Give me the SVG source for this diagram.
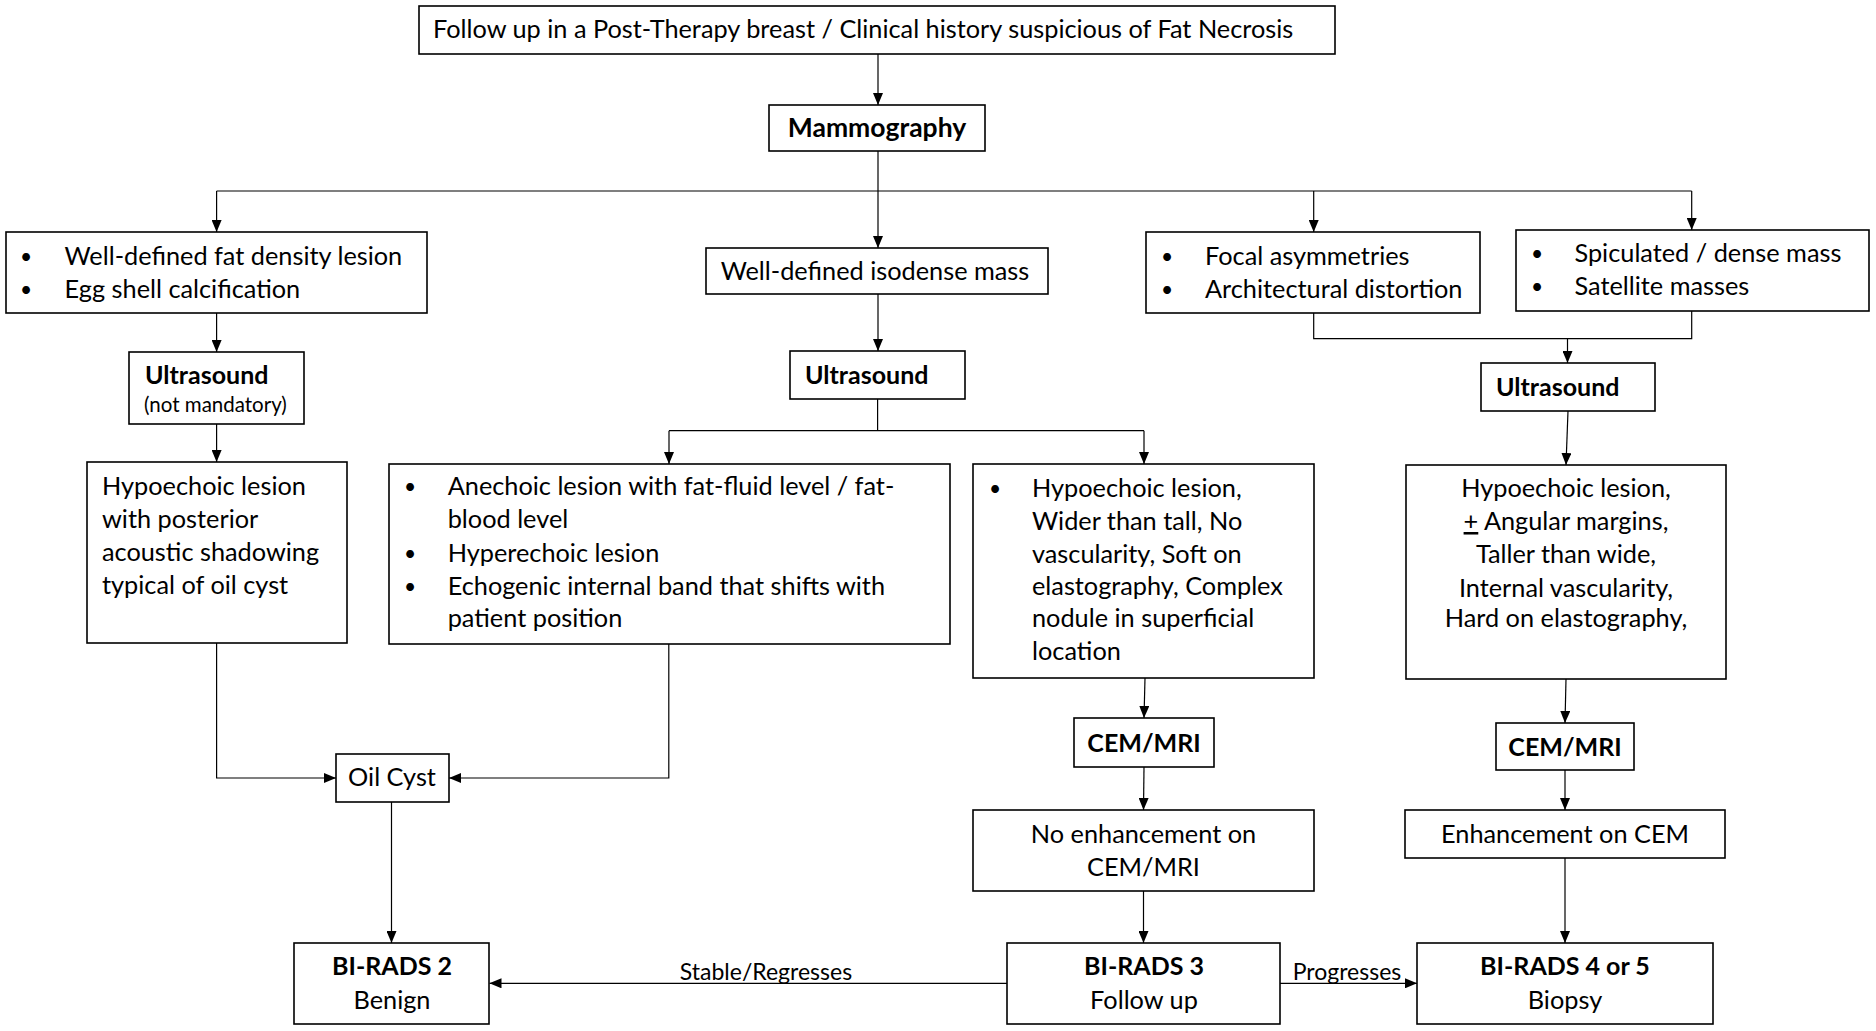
<svg xmlns="http://www.w3.org/2000/svg" width="1876" height="1031" viewBox="0 0 1876 1031">
<style>
.box{fill:#fff;stroke:#000;stroke-width:1.6}
.t{font-family:Lato,"Liberation Sans",sans-serif;font-size:25.3px;fill:#000}
.b{font-weight:bold;font-size:25px}
.c{text-anchor:middle}
.s{font-size:20.5px}
.e{font-size:23px}
.bu{font-size:21px}
.ln{fill:none;stroke:#000;stroke-width:1.2}
</style>
<defs>
<marker id="ah" markerWidth="12" markerHeight="10" refX="12" refY="5" orient="auto" markerUnits="userSpaceOnUse"><path d="M0,0 L12,5 L0,10 z" fill="#000"/></marker>
</defs>
<rect width="1876" height="1031" fill="#fff"/>
<g id="connectors">
<path class="ln" d="M878,54 V105" marker-end="url(#ah)"/>
<path class="ln" d="M878,151 V191"/>
<path class="ln" d="M216.6,191 H1691.7"/>
<path class="ln" d="M216.6,191 V232" marker-end="url(#ah)"/>
<path class="ln" d="M878,191 V248" marker-end="url(#ah)"/>
<path class="ln" d="M1313.7,191 V232" marker-end="url(#ah)"/>
<path class="ln" d="M1691.7,191 V230" marker-end="url(#ah)"/>
<path class="ln" d="M216.6,313 V352" marker-end="url(#ah)"/>
<path class="ln" d="M878,294 V351" marker-end="url(#ah)"/>
<path class="ln" d="M1313.7,313 V338.6 H1691.7 V311"/>
<path class="ln" d="M1567.5,338.6 V363" marker-end="url(#ah)"/>
<path class="ln" d="M216.6,424 V462" marker-end="url(#ah)"/>
<path class="ln" d="M877.6,399 V430.7"/>
<path class="ln" d="M669,430.7 H1144"/>
<path class="ln" d="M669,430.7 V464" marker-end="url(#ah)"/>
<path class="ln" d="M1144,430.7 V464" marker-end="url(#ah)"/>
<path class="ln" d="M1568,411 L1566,465" marker-end="url(#ah)"/>
<path class="ln" d="M216.6,643 V778 H336" marker-end="url(#ah)"/>
<path class="ln" d="M668.8,644 V778 H449" marker-end="url(#ah)"/>
<path class="ln" d="M1145,678 L1144,718" marker-end="url(#ah)"/>
<path class="ln" d="M1566,679 L1565,723" marker-end="url(#ah)"/>
<path class="ln" d="M1144,767 L1143.5,810" marker-end="url(#ah)"/>
<path class="ln" d="M1565,770 V810" marker-end="url(#ah)"/>
<path class="ln" d="M391.5,802 V943" marker-end="url(#ah)"/>
<path class="ln" d="M1143.5,891 V943" marker-end="url(#ah)"/>
<path class="ln" d="M1565,858 V943" marker-end="url(#ah)"/>
<path class="ln" d="M1007,983.3 H489.5" marker-end="url(#ah)"/>
<path class="ln" d="M1280,983.3 H1417" marker-end="url(#ah)"/>
<text class="t e c" x="766" y="980">Stable/Regresses</text>
<text class="t e c" x="1347" y="980">Progresses</text>
</g>
<g id="n-top">
<rect class="box" x="419" y="6" width="916" height="48"/>
<text class="t" x="433" y="38">Follow up in a Post-Therapy breast / Clinical history suspicious of Fat Necrosis</text>
</g>
<g id="n-mammo">
<rect class="box" x="769" y="105" width="216" height="46"/>
<text class="t b c" x="877" y="137" style="font-size:26.5px">Mammography</text>
</g>
<g id="n-fat">
<rect class="box" x="6" y="232" width="421" height="81"/>
<text class="t bu" x="20" y="264">•</text><text class="t" x="64.6" y="265">Well-defined fat density lesion</text>
<text class="t bu" x="20" y="297">•</text><text class="t" x="64.6" y="298">Egg shell calcification</text>
</g>
<g id="n-iso">
<rect class="box" x="706" y="248" width="342" height="46"/>
<text class="t c" x="875" y="280">Well-defined isodense mass</text>
</g>
<g id="n-focal">
<rect class="box" x="1146" y="232" width="334" height="81"/>
<text class="t bu" x="1161" y="264">•</text><text class="t" x="1205" y="265">Focal asymmetries</text>
<text class="t bu" x="1161" y="297">•</text><text class="t" x="1205" y="298">Architectural distortion</text>
</g>
<g id="n-spic">
<rect class="box" x="1516" y="230" width="353" height="81"/>
<text class="t bu" x="1531" y="261">•</text><text class="t" x="1574.5" y="262">Spiculated / dense mass</text>
<text class="t bu" x="1531" y="294">•</text><text class="t" x="1574.5" y="295">Satellite masses</text>
</g>
<g id="n-us1">
<rect class="box" x="129" y="352" width="175" height="72"/>
<text class="t b" x="145" y="384">Ultrasound</text>
<text class="t s" x="144" y="412">(not mandatory)</text>
</g>
<g id="n-us2">
<rect class="box" x="790" y="351" width="175" height="48"/>
<text class="t b" x="805" y="384">Ultrasound</text>
</g>
<g id="n-us3">
<rect class="box" x="1481" y="363" width="174" height="48"/>
<text class="t b" x="1496" y="396">Ultrasound</text>
</g>
<g id="n-oilcyst-us">
<rect class="box" x="87" y="462" width="260" height="181"/>
<text class="t" x="102" y="495">Hypoechoic lesion</text>
<text class="t" x="102" y="528">with posterior</text>
<text class="t" x="102" y="561">acoustic shadowing</text>
<text class="t" x="102" y="594">typical of oil cyst</text>
</g>
<g id="n-anechoic">
<rect class="box" x="389" y="464" width="561" height="180"/>
<text class="t bu" x="404" y="494">•</text><text class="t" x="447.7" y="495">Anechoic lesion with fat-fluid level / fat-</text>
<text class="t" x="447.7" y="528">blood level</text>
<text class="t bu" x="404" y="560.5">•</text><text class="t" x="447.7" y="561.5">Hyperechoic lesion</text>
<text class="t bu" x="404" y="594">•</text><text class="t" x="447.7" y="595">Echogenic internal band that shifts with</text>
<text class="t" x="447.7" y="627">patient position</text>
</g>
<g id="n-benign-us">
<rect class="box" x="973" y="464" width="341" height="214"/>
<text class="t bu" x="989" y="496">•</text><text class="t" x="1032" y="497">Hypoechoic lesion,</text>
<text class="t" x="1032" y="530">Wider than tall, No</text>
<text class="t" x="1032" y="563">vascularity, Soft on</text>
<text class="t" x="1032" y="595">elastography, Complex</text>
<text class="t" x="1032" y="627">nodule in superficial</text>
<text class="t" x="1032" y="660">location</text>
</g>
<g id="n-suspicious-us">
<rect class="box" x="1406" y="465" width="320" height="214"/>
<text class="t c" x="1566" y="497">Hypoechoic lesion,</text>
<text class="t c" x="1566" y="530"><tspan text-decoration="underline">+</tspan> Angular margins,</text>
<text class="t c" x="1566" y="563">Taller than wide,</text>
<text class="t c" x="1566" y="597">Internal vascularity,</text>
<text class="t c" x="1566" y="627">Hard on elastography,</text>
</g>
<g id="n-oilcyst">
<rect class="box" x="336" y="754" width="113" height="48"/>
<text class="t c" x="392" y="786">Oil Cyst</text>
</g>
<g id="n-cem1">
<rect class="box" x="1074" y="718" width="140" height="49"/>
<text class="t b c" x="1144" y="752">CEM/MRI</text>
</g>
<g id="n-cem2">
<rect class="box" x="1496" y="723" width="138" height="47"/>
<text class="t b c" x="1565" y="756">CEM/MRI</text>
</g>
<g id="n-noenh">
<rect class="box" x="973" y="810" width="341" height="81"/>
<text class="t c" x="1143.5" y="843">No enhancement on</text>
<text class="t c" x="1143.5" y="876">CEM/MRI</text>
</g>
<g id="n-enh">
<rect class="box" x="1405" y="810" width="320" height="48"/>
<text class="t c" x="1565" y="843">Enhancement on CEM</text>
</g>
<g id="n-birads2">
<rect class="box" x="294" y="943" width="195" height="81"/>
<text class="t b c" x="392" y="975">BI-RADS 2</text>
<text class="t c" x="392" y="1009">Benign</text>
</g>
<g id="n-birads3">
<rect class="box" x="1007" y="943" width="273" height="81"/>
<text class="t b c" x="1144" y="975">BI-RADS 3</text>
<text class="t c" x="1144" y="1009">Follow up</text>
</g>
<g id="n-birads45">
<rect class="box" x="1417" y="943" width="296" height="81"/>
<text class="t b c" x="1565" y="975">BI-RADS 4 or 5</text>
<text class="t c" x="1565" y="1009">Biopsy</text>
</g>
</svg>
